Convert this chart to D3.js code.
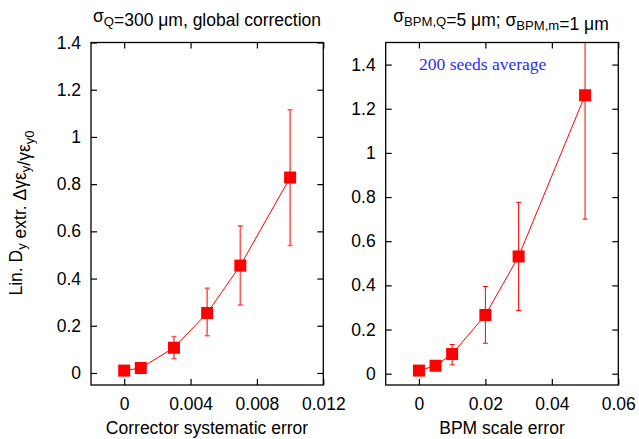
<!DOCTYPE html>
<html><head><meta charset="utf-8">
<script src="https://cdn.jsdelivr.net/npm/d3@7"></script>
<style>body{margin:0;background:#fff}svg{display:block}</style>
</head><body>
<svg id="c" width="639" height="439" font-family="Liberation Sans, Arial, sans-serif"></svg>
<script>
// ---- data ----
const leftX    = [0, 0.001, 0.003, 0.005, 0.007, 0.010];
const leftY    = [0.010, 0.021, 0.107, 0.254, 0.455, 0.828];
const leftLo   = [0.004, 0.014, 0.061, 0.158, 0.288, 0.540];
const leftHi   = [0.016, 0.028, 0.154, 0.359, 0.623, 1.115];
const rightX   = [0, 0.005, 0.010, 0.020, 0.030, 0.050];
const rightY   = [0.014, 0.036, 0.089, 0.266, 0.531, 1.261];
const rightLo  = [0.008, 0.026, 0.040, 0.138, 0.286, 0.700];
const rightHi  = [0.020, 0.046, 0.132, 0.395, 0.776, 1.820];
const leftXTicks  = [0, 0.004, 0.008, 0.012];
const rightXTicks = [0, 0.02, 0.04, 0.06];
const yTicks      = [0, 0.2, 0.4, 0.6, 0.8, 1, 1.2, 1.4];

const svg = d3.select("#c");
const FS = 17.5;
const SANS = "Liberation Sans, Arial, sans-serif";
const fmt = d => String(+d.toFixed(4));

function panel(cfg) {
  const {x0, x1, y0, y1, xDom, yDom, xs, ys, lo, hi, xTicks, ebColor, ebWidth, id} = cfg;
  const x = d3.scaleLinear().domain(xDom).range([x0, x1]);
  const y = d3.scaleLinear().domain(yDom).range([y1, y0]);
  const g = svg.append("g");
  g.append("clipPath").attr("id", id).append("rect")
    .attr("x", x0).attr("y", y0).attr("width", x1 - x0).attr("height", y1 - y0);

  const yT = yTicks.filter(t => t <= yDom[1]);
  const xT = xTicks;
  const gb = g.append("g").attr("transform", `translate(0,${y1})`)
    .call(d3.axisBottom(x).tickValues(xT).tickFormat(fmt).tickSizeInner(-6).tickSizeOuter(0).tickPadding(10));
  const gt = g.append("g").attr("transform", `translate(0,${y0})`)
    .call(d3.axisTop(x).tickValues(xT).tickFormat("").tickSizeInner(-6).tickSizeOuter(0));
  const gl = g.append("g").attr("transform", `translate(${x0},0)`)
    .call(d3.axisLeft(y).tickValues(yT).tickFormat(fmt).tickSizeInner(-6).tickSizeOuter(0).tickPadding(10));
  const gr = g.append("g").attr("transform", `translate(${x1},0)`)
    .call(d3.axisRight(y).tickValues(yT).tickFormat("").tickSizeInner(-6).tickSizeOuter(0));
  [gb, gt, gl, gr].forEach(a => {
    a.attr("font-family", SANS).attr("font-size", FS);
    a.select(".domain").remove();
    a.selectAll("line").attr("stroke", "#000").attr("stroke-width", 1.2);
    a.selectAll("text").attr("fill", "#000");
  });
  gb.selectAll("text").attr("dy", "0.71em").attr("y", 13);

  const d = xs.map((v, i) => ({x: v, y: ys[i], lo: lo[i], hi: hi[i]}));
  const data = g.append("g").attr("clip-path", `url(#${id})`);
  data.append("path").datum(d)
    .attr("d", d3.line().x(p => x(p.x)).y(p => y(p.y)))
    .attr("fill", "none").attr("stroke", "#ff0000").attr("stroke-width", 1);
  const eb = data.selectAll(".eb").data(d).join("g")
    .attr("stroke", ebColor).attr("stroke-width", ebWidth);
  eb.append("line").attr("x1", p => x(p.x)).attr("x2", p => x(p.x))
    .attr("y1", p => y(p.lo)).attr("y2", p => y(p.hi));
  eb.append("line").attr("x1", p => x(p.x) - 2.5).attr("x2", p => x(p.x) + 2.5)
    .attr("y1", p => y(p.lo)).attr("y2", p => y(p.lo));
  eb.append("line").attr("x1", p => x(p.x) - 2.5).attr("x2", p => x(p.x) + 2.5)
    .attr("y1", p => y(p.hi)).attr("y2", p => y(p.hi));
  data.selectAll(".pt").data(d).join("rect")
    .attr("x", p => x(p.x) - 6).attr("y", p => y(p.y) - 6)
    .attr("width", 12).attr("height", 12).attr("fill", "#ff0000");

  g.append("rect").attr("x", x0).attr("y", y0).attr("width", x1 - x0).attr("height", y1 - y0)
    .attr("fill", "none").attr("stroke", "#000").attr("stroke-width", 1.3);
  return {x, y};
}

panel({id: "cl", x0: 91, x1: 323.3, y0: 42.5, y1: 385,
  xDom: [-0.002, 0.012], yDom: [-0.0509, 1.4],
  xs: leftX, ys: leftY, lo: leftLo, hi: leftHi, xTicks: leftXTicks,
  ebColor: "#ff5a5a", ebWidth: 1.6});
panel({id: "cr", x0: 385.7, x1: 618.3, y0: 42.5, y1: 385,
  xDom: [-0.01, 0.06], yDom: [-0.0512, 1.5],
  xs: rightX, ys: rightY, lo: rightLo, hi: rightHi, xTicks: rightXTicks,
  ebColor: "#ff0000", ebWidth: 1});

function richText(el, parts) {
  parts.forEach(p => {
    if (p.s) {
      el.append("tspan").attr("font-size", FS * 0.75).attr("dy", 4).text(p.t);
      el.append("tspan").attr("dy", -4).text("");
    } else {
      el.append("tspan").text(p.t);
    }
  });
}
const t1 = svg.append("text").attr("x", 207).attr("y", 22).attr("text-anchor", "middle").attr("font-size", FS);
richText(t1, [{t: "σ"}, {t: "Q", s: 1}, {t: "=300 μm, global correction"}]);
const t2 = svg.append("text").attr("x", 501).attr("y", 22).attr("text-anchor", "middle").attr("font-size", FS);
richText(t2, [{t: "σ"}, {t: "BPM,Q", s: 1}, {t: "=5 μm; σ"}, {t: "BPM,m", s: 1}, {t: "=1 μm"}]);

svg.append("text").attr("x", 207).attr("y", 434).attr("text-anchor", "middle").attr("font-size", FS)
  .text("Corrector systematic error");
svg.append("text").attr("x", 502).attr("y", 434).attr("text-anchor", "middle").attr("font-size", FS)
  .text("BPM scale error");
const yl = svg.append("text").attr("transform", "translate(22,213) rotate(-90)")
  .attr("text-anchor", "middle").attr("font-size", FS);
richText(yl, [{t: "Lin. D"}, {t: "y", s: 1}, {t: " extr. Δγε"}, {t: "y", s: 1}, {t: "/γε"}, {t: "y0", s: 1}]);

svg.append("text").attr("x", 419).attr("y", 70).attr("font-size", FS)
  .attr("font-family", "Liberation Serif, Times New Roman, serif").attr("fill", "#2b2bff")
  .text("200 seeds average");
</script>
</body></html>
